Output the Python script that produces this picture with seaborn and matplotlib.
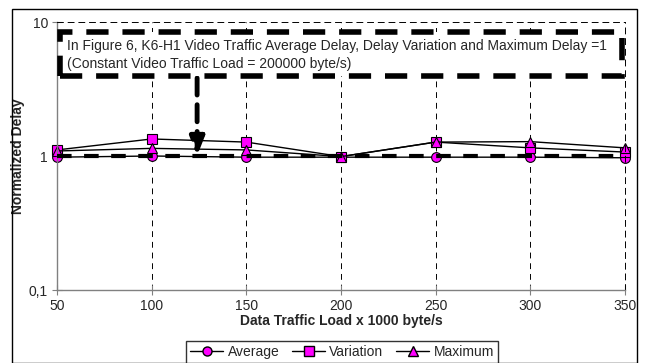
import matplotlib
matplotlib.use("Agg")
import matplotlib.pyplot as plt
import matplotlib.patches as mpatches
from matplotlib.lines import Line2D
import seaborn as sns
import pandas as pd

# data
load = [50, 100, 150, 200, 250, 300, 350]
average = [0.98, 1.00, 0.98, 0.98, 0.98, 0.98, 0.97]
variation = [1.11, 1.34, 1.27, 0.99, 1.27, 1.15, 1.07]
maximum = [1.09, 1.14, 1.11, 0.99, 1.27, 1.28, 1.15]
ytick_vals = [0.1, 1, 10]
ytick_labels = ["0,1", "1", "10"]
ref_level = 1.0
arrow_x = 124

sns.set_theme(style="white")
plt.rcParams['font.family'] = ['Liberation Sans', 'DejaVu Sans']

fig = plt.figure(figsize=(6.45, 3.63), dpi=100)
ax = fig.add_axes([57/645, 1-290/363, (625-57)/645, (290-22)/363])

df = pd.DataFrame({"load": load, "Average": average,
                   "Variation": variation, "Maximum": maximum})
mk = dict(color="black", lw=1, markerfacecolor="#FF00FF",
          markeredgecolor="black", markeredgewidth=0.8, markersize=7,
          clip_on=False)
sns.lineplot(data=df, x="load", y="Average", marker="o", ax=ax, **mk)
sns.lineplot(data=df, x="load", y="Variation", marker="s", ax=ax, **mk)
sns.lineplot(data=df, x="load", y="Maximum", marker="^", ax=ax, **mk)

# thick dashed reference line at =1
ax.axhline(ref_level, color="black", lw=3, ls=(0, (3.5, 3)), zorder=5)

ax.set_yscale("log")
ax.set_ylim(0.1, 10)
ax.set_xlim(50, 350)
ax.set_xticks(load)
ax.set_yticks(ytick_vals)
ax.set_yticklabels(ytick_labels)
ax.minorticks_off()
ax.tick_params(axis="both", direction="inout", length=7, width=0.8,
               color="#808080", labelsize=10, pad=3,
               left=True, bottom=True)
ax.xaxis.grid(True, color="black", lw=0.7, ls=(0, (6, 5)))
for s in ["left", "bottom"]:
    ax.spines[s].set_color("#808080")
    ax.spines[s].set_linewidth(1)
for s in ["top", "right"]:
    ax.spines[s].set_color("black")
    ax.spines[s].set_linewidth(0.7)
    ax.spines[s].set_linestyle((0, (6, 5)))
ax.set_xlabel("Data Traffic Load x 1000 byte/s", fontsize=10,
              fontweight="bold", labelpad=1)
ax.set_ylabel("Normalized Delay", fontsize=10, fontweight="bold", labelpad=3)

# annotation box with arrow
box = mpatches.Rectangle((60/645, 1-76/363), (622-60)/645, (76-32)/363,
                         transform=fig.transFigure, facecolor="white",
                         edgecolor="black", lw=4, ls=(0, (4, 2.5)),
                         zorder=6)
fig.patches.append(box)
fig.text(67/645, 1-46/363,
         "In Figure 6, K6-H1 Video Traffic Average Delay, Delay Variation and Maximum Delay =1",
         fontsize=10, va="center", ha="left", zorder=7)
fig.text(67/645, 1-64/363, "(Constant Video Traffic Load = 200000 byte/s)",
         fontsize=10, va="center", ha="left", zorder=7)
ax.annotate("", xy=(arrow_x, ref_level), xycoords="data",
            xytext=(arrow_x, 1-78/363),
            textcoords=("data", "figure fraction"),
            arrowprops=dict(arrowstyle="-|>,head_length=0.9,head_width=0.35",
                            color="black", lw=3.5, ls=(0, (3.5, 2)),
                            shrinkA=0, shrinkB=0),
            zorder=7)

handles = [Line2D([], [], color="black", lw=1, marker=m,
                  markerfacecolor="#FF00FF", markeredgecolor="black",
                  markersize=6.5) for m in ["o", "s", "^"]]
leg = fig.legend(handles, ["Average", "Variation", "Maximum"], ncol=3,
                 loc="lower center", bbox_to_anchor=(342/645, 0.0),
                 frameon=True, fancybox=False, fontsize=10,
                 handlelength=2.4, handletextpad=0.3, columnspacing=0.9,
                 borderpad=0.3, borderaxespad=0)
leg.get_frame().set_edgecolor("black")
leg.get_frame().set_linewidth(1)

border = mpatches.Rectangle((12/645, 0.5/363), (637-12)/645, (362-8)/363,
                            transform=fig.transFigure, fill=False,
                            edgecolor="black", lw=1)
fig.patches.append(border)

fig.savefig("out.png", dpi=100)
